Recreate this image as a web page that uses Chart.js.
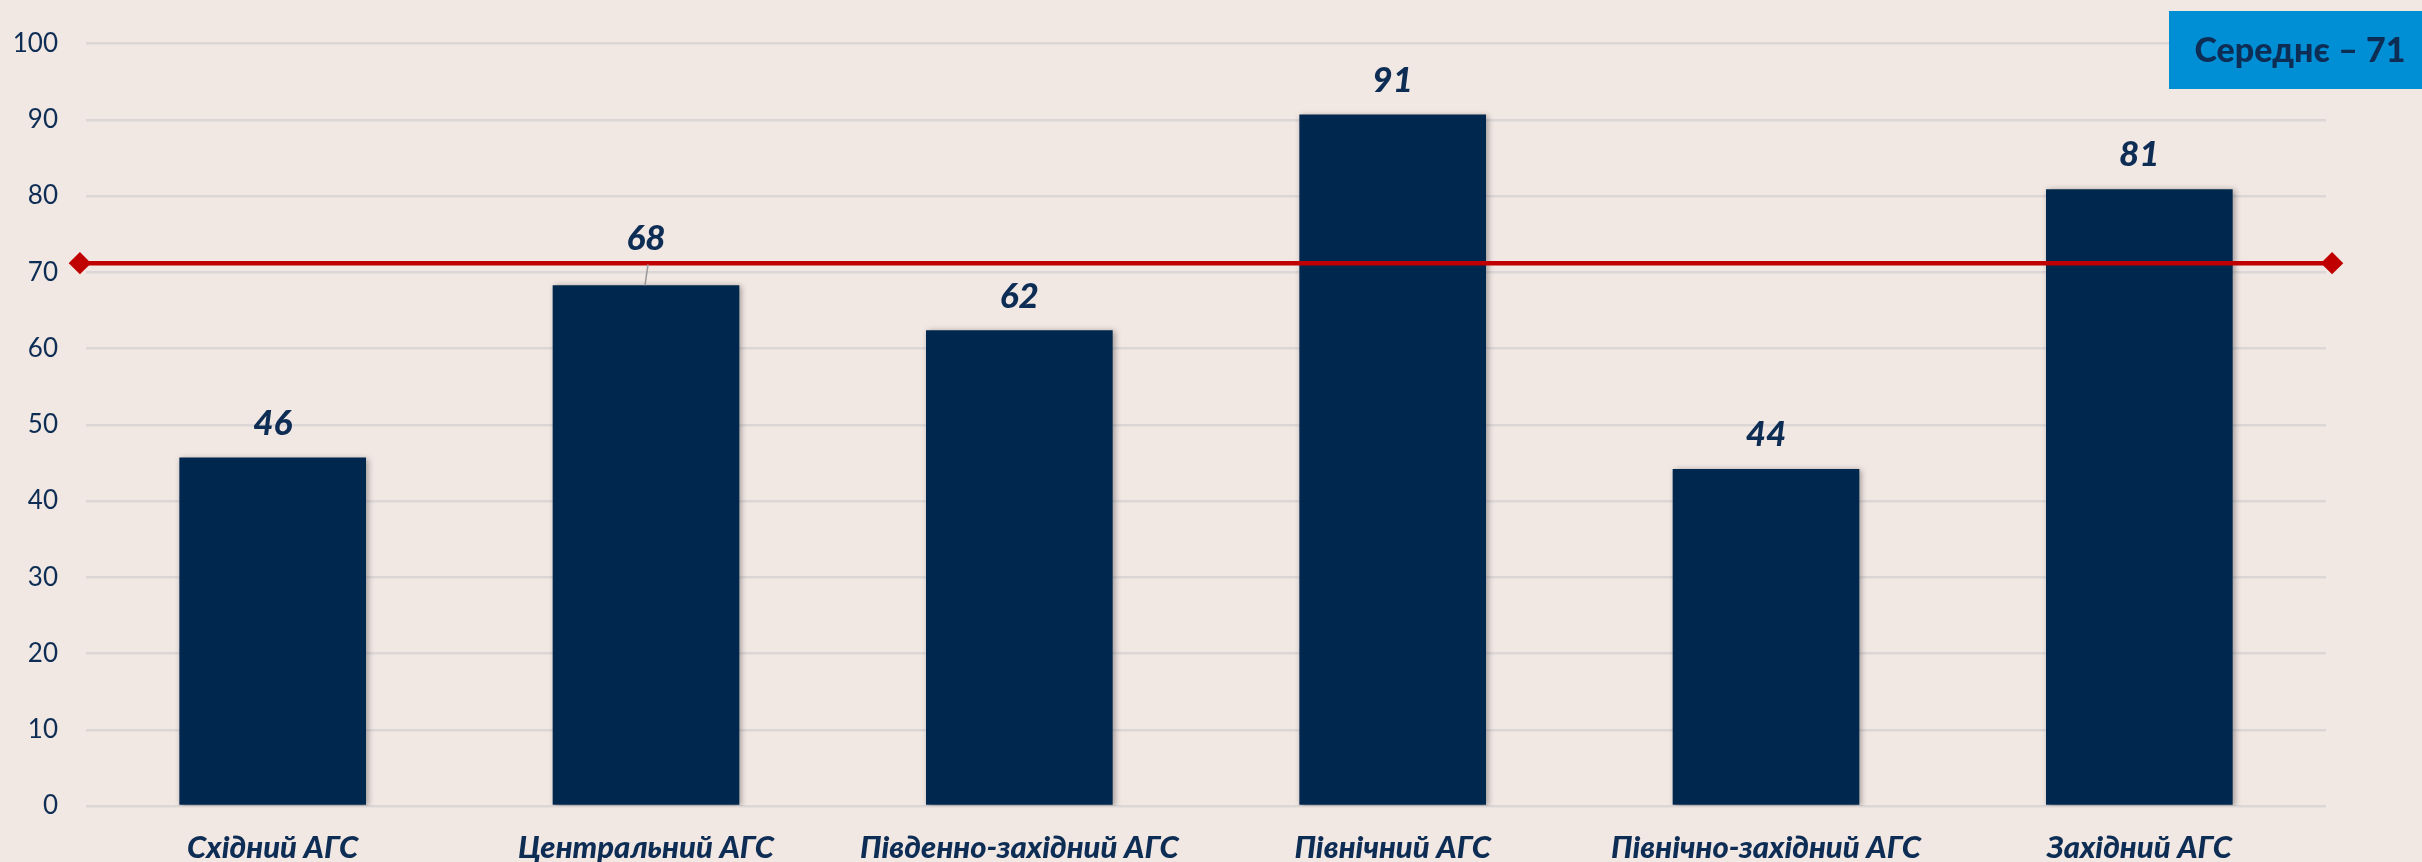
<!DOCTYPE html>
<html>
<head>
<meta charset="utf-8">
<script src="https://cdn.jsdelivr.net/npm/chart.js@4/dist/chart.umd.min.js"></script>
<style>
html,body{margin:0;padding:0;background:#F1E7E3;}
#wrap{width:2422px;height:862px;position:relative;}
</style>
</head>
<body>
<div id="wrap"><canvas id="c" width="2422" height="862"></canvas></div>
<script>
const categories = ["Східний АГС","Центральний АГС","Південно-західний АГС","Північний АГС","Північно-західний АГС","Західний АГС"];
const values = [45.7, 68.3, 62.4, 90.7, 44.2, 80.9];
const valueLabels = ["46","68","62","91","44","81"];
const averageValue = 71.2;
const averageLabel = "Середнє – 71";
const yTicks = [0,10,20,30,40,50,60,70,80,90,100];

const NAVY = '#00274D';
const TEXT = '#0E2D55';
const FONT = 'Lato, "Open Sans", sans-serif';

const bgPlugin = {
  id:'bg',
  beforeDraw(chart){
    const ctx=chart.ctx; ctx.save(); ctx.fillStyle='#F1E7E3'; ctx.fillRect(0,0,chart.width,chart.height); ctx.restore();
  }
};
const shadowPlugin = {
  id:'barShadow',
  beforeDatasetDraw(chart,args){
    if(args.index===0){const ctx=chart.ctx; ctx.save(); ctx.shadowColor='rgba(0,0,0,0.35)'; ctx.shadowBlur=6; ctx.shadowOffsetX=2; ctx.shadowOffsetY=1;}
  },
  afterDatasetDraw(chart,args){ if(args.index===0){chart.ctx.restore();} }
};
const labelPlugin = {
  id:'valLabels',
  afterDatasetsDraw(chart){
    const ctx=chart.ctx; const meta=chart.getDatasetMeta(0);
    ctx.save();
    ctx.font='italic 900 35px '+FONT; ctx.fillStyle=TEXT; ctx.textAlign='center'; ctx.textBaseline='middle';
    meta.data.forEach((bar,i)=>{
      let off=34;
      if(i===1){
        off=47;
        ctx.save(); ctx.strokeStyle='#9A9A9A'; ctx.lineWidth=1.5; ctx.beginPath();
        ctx.moveTo(bar.x+2, bar.y-21); ctx.lineTo(bar.x-1, bar.y); ctx.stroke(); ctx.restore();
      }
      ctx.fillText(valueLabels[i], bar.x, bar.y-off);
    });
    ctx.restore();
  }
};
const boxPlugin = {
  id:'avgBox',
  afterDraw(chart){
    const ctx=chart.ctx; ctx.save();
    ctx.fillStyle='#008FD5'; ctx.fillRect(2169,11,253,78);
    ctx.fillStyle=TEXT; ctx.font='900 34px '+FONT; ctx.textAlign='center'; ctx.textBaseline='middle';
    ctx.fillText(averageLabel, 2300, 51);
    ctx.restore();
  }
};

new Chart(document.getElementById('c'),{
  type:'bar',
  data:{
    labels:categories,
    datasets:[
      {type:'bar', data:values, backgroundColor:NAVY, barPercentage:0.5, categoryPercentage:1.0, grouped:false, order:2},
      {type:'line', xAxisID:'x2', data:[{x:0,y:averageValue},{x:1,y:averageValue}], borderColor:'#C00000', borderWidth:4.5,
       pointStyle:'rectRot', pointRadius:8, pointBackgroundColor:'#C00000', pointBorderColor:'#C00000', clip:false, order:1}
    ]
  },
  options:{
    responsive:false, animation:false, devicePixelRatio:1,
    layout:{padding:{left:0,right:96,top:43,bottom:0}},
    plugins:{legend:{display:false}, tooltip:{enabled:false}},
    scales:{
      x:{
        grid:{display:false, drawTicks:false}, border:{display:false},
        ticks:{color:TEXT, font:{family:FONT, size:31, style:'italic', weight:'900'}, padding:23, maxRotation:0, autoSkip:false},
        afterFit(a){a.height=56;}
      },
      x2:{type:'linear', display:false, offset:false, grid:{offset:false}, min:0.0027, max:0.9973},
      y:{
        min:0, max:100,
        afterBuildTicks(a){a.ticks=yTicks.map(v=>({value:v}));},
        grid:{color:'#DCD7D6', lineWidth:2.5, drawTicks:false}, border:{display:false},
        ticks:{color:TEXT, font:{family:FONT, size:26}, padding:28},
        afterFit(a){a.width=86;}
      }
    }
  },
  plugins:[bgPlugin, shadowPlugin, labelPlugin, boxPlugin]
});
</script>
</body>
</html>
